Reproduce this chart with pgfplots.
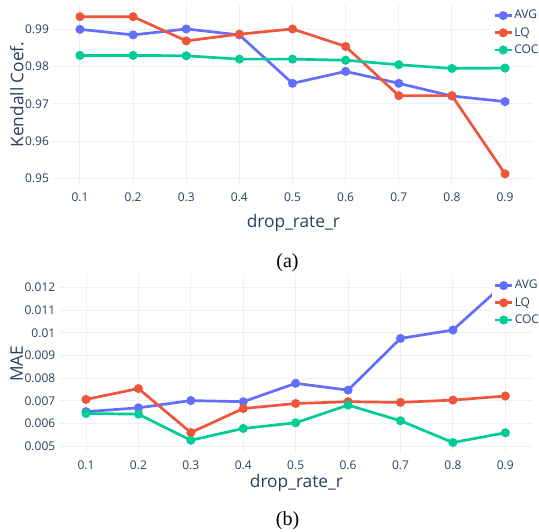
\documentclass[border=0pt]{standalone}
\usepackage{fontspec}
\setmainfont{Open Sans}
\newfontfamily\capfont{Liberation Serif}
\usepackage{pgfplots}
\pgfplotsset{compat=1.18}
\definecolor{avgblue}{HTML}{636EFA}
\definecolor{lqred}{HTML}{EF553B}
\definecolor{cocgreen}{HTML}{00CC96}
\definecolor{gridc}{HTML}{EBF0F8}
\definecolor{fontc}{HTML}{2A3F5F}

\pgfplotsset{
  plotlystyle/.style={
    scale only axis,
    axis line style={draw=none},
    major tick length=0pt,
    grid=major, grid style={gridc, line width=1pt},
    xmin=0.05, xmax=0.953,
    xtick={0.1,0.2,0.3,0.4,0.5,0.6,0.7,0.8,0.9},
    xticklabels={0.1,0.2,0.3,0.4,0.5,0.6,0.7,0.8,0.9},
    scaled ticks=false,
    tick label style={font=\fontsize{12}{12}\selectfont, text=fontc},
    xticklabel style={yshift=-4pt},
    yticklabel style={xshift=-1pt},
    /pgf/number format/assume math mode=true,
    label style={font=\fontsize{17.3}{18}\selectfont, text=fontc},
    every axis plot/.append style={line width=2.7pt, mark=*, mark size=3.1pt},
    legend style={at={(0.912,1)}, anchor=north west, draw=none, fill=white,
      font=\fontsize{12}{12}\selectfont, text=fontc, row sep=4.4pt,
      inner xsep=2pt, inner ysep=5pt,
      nodes={inner sep=1pt, text height=8.6pt, text depth=2.2pt}},
    legend cell align=left,
    legend image code/.code={\draw[mark repeat=2,mark phase=2,##1]
      plot coordinates {(0pt,0pt) (8.7pt,0pt) (17.4pt,0pt)};},
  }
}

\begin{document}
\begin{tikzpicture}
\useasboundingbox (0,0) rectangle (539pt,-531pt);

%% (a) Kendall coefficient
\begin{axis}[plotlystyle,
    at={(53.4pt,-4pt)}, anchor=north west,
    width=479.8pt, height=181pt,
    ymin=0.9482, ymax=0.9968,
    ytick={0.95,0.96,0.97,0.98,0.99},
    yticklabels={0.95,0.96,0.97,0.98,0.99},
    xlabel={drop\_rate\_r}, ylabel={Kendall Coef.},
    xlabel style={at={(axis description cs:0.5,-0.212)}, anchor=center},
    ylabel style={at={(axis description cs:-0.0759,0.5)}, anchor=center},
]
\addplot[color=avgblue] coordinates {
  (0.1,0.9900)(0.2,0.9885)(0.3,0.9901)(0.4,0.9885)(0.5,0.9755)
  (0.6,0.9787)(0.7,0.9755)(0.8,0.9721)(0.9,0.9706)};
\addlegendentry{AVG}
\addplot[color=lqred] coordinates {
  (0.1,0.9934)(0.2,0.9934)(0.3,0.9869)(0.4,0.9887)(0.5,0.9901)
  (0.6,0.9854)(0.7,0.9722)(0.8,0.9722)(0.9,0.9512)};
\addlegendentry{LQ}
\addplot[color=cocgreen] coordinates {
  (0.1,0.9830)(0.2,0.9830)(0.3,0.9829)(0.4,0.9820)(0.5,0.9820)
  (0.6,0.9817)(0.7,0.9805)(0.8,0.9795)(0.9,0.9796)};
\addlegendentry{COC}
\end{axis}

%% (b) MAE
\begin{axis}[plotlystyle,
    at={(59.8pt,-274pt)}, anchor=north west,
    width=473.3pt, height=179.4pt,
    ymin=0.00468, ymax=0.01259,
    ytick={0.005,0.006,0.007,0.008,0.009,0.010,0.011,0.012},
    yticklabels={0.005,0.006,0.007,0.008,0.009,0.01,0.011,0.012},
    xlabel={drop\_rate\_r}, ylabel={MAE},
    xlabel style={at={(axis description cs:0.5,-0.167)}, anchor=center},
    ylabel style={at={(axis description cs:-0.091,0.5)}, anchor=center},
]
\addplot[color=avgblue] coordinates {
  (0.1,0.00652)(0.2,0.00669)(0.3,0.00701)(0.4,0.00696)(0.5,0.00777)
  (0.6,0.00747)(0.7,0.00975)(0.8,0.01012)(0.9,0.0122)};
\addlegendentry{AVG}
\addplot[color=lqred] coordinates {
  (0.1,0.00706)(0.2,0.00754)(0.3,0.00560)(0.4,0.00666)(0.5,0.00688)
  (0.6,0.00696)(0.7,0.00693)(0.8,0.00703)(0.9,0.00721)};
\addlegendentry{LQ}
\addplot[color=cocgreen] coordinates {
  (0.1,0.00644)(0.2,0.00641)(0.3,0.00526)(0.4,0.00578)(0.5,0.00603)
  (0.6,0.00681)(0.7,0.00612)(0.8,0.00516)(0.9,0.00559)};
\addlegendentry{COC}
\end{axis}

\node[anchor=base, font=\capfont\fontsize{20}{20}\selectfont] at (287.5pt,-267.5pt) {(a)};
\node[anchor=base, font=\capfont\fontsize{20}{20}\selectfont] at (287.5pt,-525pt) {(b)};
\end{tikzpicture}
\end{document}
